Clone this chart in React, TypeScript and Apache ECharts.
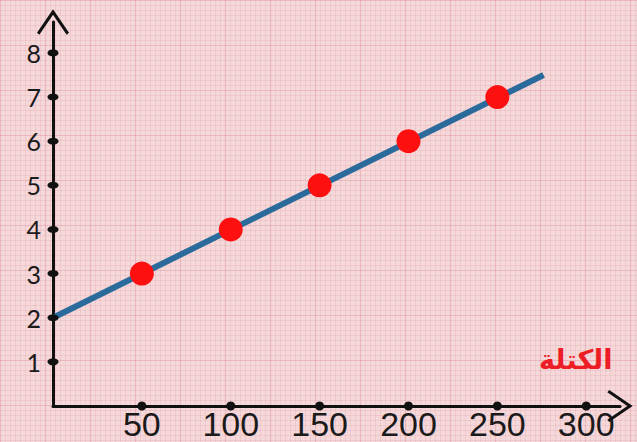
import React, { useEffect, useRef } from "react";
import * as echarts from "echarts";

const xTicks = [50, 100, 150, 200, 250, 300];
const yTicks = [1, 2, 3, 4, 5, 6, 7, 8];
const massValues = [50, 100, 150, 200, 250];
const yValues = [3, 4, 5, 6, 7];
const fitLine = [
  [0, 2],
  [276, 7.5],
];
const xLabel = "الكتلة";

const chevron = "path://M15,0 L30,22 L27.8,23.8 L15,5 L2.2,23.8 L0,22 Z";

export default function App() {
  const ref = useRef<HTMLDivElement>(null);
  useEffect(() => {
    const chart = echarts.init(ref.current!, null, { renderer: "svg" });
    chart.setOption({
      animation: false,
      backgroundColor: "#f5d8da",
      grid: [
        { left: 53, right: 17, top: 22, bottom: 36 },
        { left: 0, right: 0, top: 0, bottom: 0 },
      ],
      xAxis: [
        {
          type: "value",
          gridIndex: 0,
          min: 0,
          max: 319,
          interval: 50,
          axisLine: {
            show: true,
            symbol: ["none", chevron],
            symbolSize: [32, 27],
            lineStyle: { color: "#111", width: 3 },
          },
          axisTick: { show: false },
          splitLine: { show: false },
          axisLabel: {
            fontFamily: "'Liberation Sans Narrow', 'Liberation Sans', sans-serif",
            fontSize: 34,
            color: "#1a1a1a",
            margin: 1,
            formatter: (v: number) => (v > 0 && v % 50 === 0 ? String(v) : ""),
          },
          z: 5,
        },
        {
          type: "value",
          gridIndex: 1,
          min: 0,
          max: 637,
          interval: 45,
          axisLine: { show: false },
          axisTick: { show: false },
          axisLabel: { show: false },
          splitLine: { show: true, lineStyle: { color: "rgba(210,120,132,0.33)", width: 1.2 } },
          minorTick: { show: false, splitNumber: 9 },
          minorSplitLine: { show: true, lineStyle: { color: "rgba(225,150,160,0.22)", width: 1 } },
          z: 0,
        },
      ],
      yAxis: [
        {
          type: "value",
          gridIndex: 0,
          min: 0,
          max: 8.7,
          interval: 1,
          axisLine: {
            show: true,
            symbol: ["none", chevron],
            symbolSize: [32, 27],
            lineStyle: { color: "#111", width: 3 },
          },
          axisTick: { show: false },
          splitLine: { show: false },
          axisLabel: {
            fontFamily: "Lato",
            fontSize: 25,
            color: "#1a1a1a",
            margin: 12,
            formatter: (v: number) => (v > 0 && Number.isInteger(v) ? String(v) : ""),
          },
          z: 5,
        },
        {
          type: "value",
          gridIndex: 1,
          min: 0,
          max: 442,
          interval: 45,
          inverse: true,
          axisLine: { show: false },
          axisTick: { show: false },
          axisLabel: { show: false },
          splitLine: { show: true, lineStyle: { color: "rgba(210,120,132,0.33)", width: 1.2 } },
          minorTick: { show: false, splitNumber: 9 },
          minorSplitLine: { show: true, lineStyle: { color: "rgba(225,150,160,0.22)", width: 1 } },
          z: 0,
        },
      ],
      series: [
        {
          type: "line",
          xAxisIndex: 0,
          yAxisIndex: 0,
          data: fitLine,
          showSymbol: false,
          clip: false,
          lineStyle: { color: "#2b6b9b", width: 6 },
          z: 6,
        },
        {
          type: "scatter",
          xAxisIndex: 0,
          yAxisIndex: 0,
          data: massValues.map((m, i) => [m, yValues[i]]),
          symbolSize: 24,
          clip: false,
          itemStyle: { color: "#ff1010", opacity: 1 },
          z: 7,
        },
        {
          type: "scatter",
          xAxisIndex: 0,
          yAxisIndex: 0,
          data: xTicks.map((v) => [v, 0]),
          symbolSize: [9, 9],
          clip: false,
          itemStyle: { color: "#111", opacity: 1 },
          z: 8,
        },
        {
          type: "scatter",
          xAxisIndex: 0,
          yAxisIndex: 0,
          data: yTicks.map((v) => [0, v]),
          symbolSize: [11, 7],
          clip: false,
          itemStyle: { color: "#111", opacity: 1 },
          z: 8,
        },
      ],
      graphic: [
        {
          type: "text",
          left: 539,
          top: 346,
          style: {
            text: xLabel,
            fill: "#ee1c24",
            font: "bold 27px 'DejaVu Sans'",
          },
          z: 10,
        },
      ],
    });
    return () => chart.dispose();
  }, []);
  return (
    <div
      ref={ref}
      style={{ position: "absolute", left: 0, top: 0, width: 637, height: 442 }}
    />
  );
}
